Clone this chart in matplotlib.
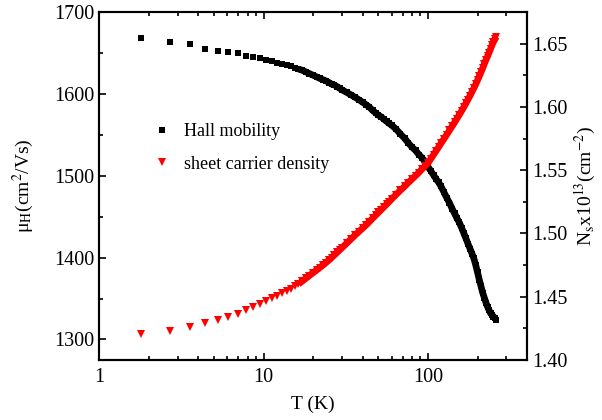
import numpy as np
import matplotlib
matplotlib.use("Agg")
import matplotlib.pyplot as plt
from matplotlib.ticker import LogLocator, MultipleLocator, FormatStrFormatter, NullFormatter

plt.rcParams['font.family'] = ['Liberation Serif', 'DejaVu Serif']
plt.rcParams['mathtext.fontset'] = 'stix'

# temperature (K)
T = [1.8, 2.7, 3.55, 4.4, 5.3, 6.1, 7.0, 7.85, 8.6, 9.5,
     10.4, 11.3, 12.1, 13.0, 13.8, 14.6, 15.5, 16.3, 17.2, 18.1, 19, 20,
     21, 22, 23, 24, 25, 26, 27, 28, 29, 30,
     32, 34, 36, 38, 40, 42, 44, 46, 48, 50, 52, 54, 56, 58, 60,
     64, 68, 72, 76, 80, 84, 88, 92, 96, 100, 104, 108, 112, 116, 120,
     125, 130, 135, 140, 145, 150, 155, 160, 165, 170, 175, 180, 185, 190, 195,
     200, 205, 210, 215, 220, 225, 230, 235, 240, 245, 250, 255, 260]

# Hall mobility (cm^2/Vs)
mu_H = [1668, 1663, 1660.6, 1655, 1652.4, 1651, 1649.6, 1646.3, 1645, 1644.5,
        1641.5, 1640, 1638.5, 1637, 1635.5, 1634, 1632, 1630.5, 1629, 1627, 1625, 1623,
        1621, 1619, 1617.5, 1616, 1614, 1612, 1611, 1609, 1607, 1605,
        1602, 1599, 1596, 1593, 1590, 1587, 1584, 1580, 1577, 1574, 1572, 1569, 1566.5, 1564, 1562,
        1557, 1551, 1546, 1540, 1535, 1531, 1526, 1522, 1517, 1511, 1506, 1501, 1496, 1492, 1487,
        1480, 1473, 1467, 1460, 1454, 1448, 1443, 1436.5, 1430, 1423.5, 1417, 1411, 1405, 1399, 1391,
        1382, 1373, 1365, 1357, 1351, 1345, 1340, 1336, 1332, 1330, 1328, 1326, 1324]

# sheet carrier density (x1e13 cm^-2)
N_s = [1.4205, 1.4231, 1.4258, 1.4290, 1.4316, 1.4342, 1.4363, 1.4394, 1.4416, 1.4442,
       1.4468, 1.4487, 1.4505, 1.4526, 1.4544, 1.4562, 1.4584, 1.4600, 1.4623, 1.4645, 1.4667, 1.4689,
       1.4710, 1.4730, 1.4750, 1.4770, 1.4790, 1.4810, 1.4830, 1.4850, 1.4869, 1.4887,
       1.4922, 1.4955, 1.4986, 1.5015, 1.5041, 1.5066, 1.5093, 1.5119, 1.5143, 1.5166, 1.5189, 1.5210, 1.5231, 1.5251, 1.5271,
       1.5308, 1.5342, 1.5372, 1.5403, 1.5430, 1.5457, 1.5482, 1.5509, 1.5532, 1.5556, 1.5590, 1.5622, 1.5653, 1.5683, 1.5713,
       1.5748, 1.5782, 1.5815, 1.5847, 1.5878, 1.5909, 1.5939, 1.5969, 1.5999, 1.6029, 1.6059, 1.6089, 1.6119, 1.6149, 1.6180,
       1.6211, 1.6243, 1.6275, 1.6308, 1.6341, 1.6372, 1.6400, 1.6430, 1.6460, 1.6490, 1.6515, 1.6535, 1.6555]

fig = plt.figure(figsize=(6.02, 4.2), dpi=100)
ax = fig.add_axes([0.1645, 0.143, 0.711, 0.828])
ax2 = ax.twinx()

# dense part of the sweep: markers overlap into a band
n0 = 17
ax.plot(T[n0:], mu_H[n0:], '-', color='black', lw=4.8, solid_capstyle='butt')
ax2.plot(T[n0:], N_s[n0:], '-', color='red', lw=4.8, solid_capstyle='butt')
h1, = ax.plot(T, mu_H, 's', color='black', markersize=3.8, markeredgewidth=0, label='Hall mobility')
h2, = ax2.plot(T, N_s, 'v', color='red', markersize=5.5, markeredgewidth=0, label='sheet carrier density')

ax.set_xscale('log')
ax.set_xlim(1, 400)
ax.set_ylim(1275, 1700)
ax2.set_ylim(1.40, 1.675)

ax.xaxis.set_major_locator(LogLocator(base=10, numticks=10))
ax.xaxis.set_minor_locator(LogLocator(base=10, subs=np.arange(2, 10), numticks=10))
ax.xaxis.set_minor_formatter(NullFormatter())
ax.xaxis.set_major_formatter(FormatStrFormatter('%g'))
ax.yaxis.set_major_locator(MultipleLocator(100))
ax.yaxis.set_minor_locator(MultipleLocator(50))
ax2.yaxis.set_major_locator(MultipleLocator(0.05))
ax2.yaxis.set_minor_locator(MultipleLocator(0.025))
ax2.yaxis.set_major_formatter(FormatStrFormatter('%.2f'))

ax.tick_params(which='both', direction='in', top=True, right=False, width=1.2, labelsize=14.5)
ax.tick_params(which='major', length=5)
ax.tick_params(which='minor', length=3)
ax.tick_params(axis='x', pad=6)
ax2.tick_params(which='both', direction='in', width=1.2, labelsize=14.5)
ax2.tick_params(which='major', length=5)
ax2.tick_params(which='minor', length=3)

for a in (ax, ax2):
    for s in a.spines.values():
        s.set_linewidth(1.5)

ax.set_xlabel('T (K)', fontsize=14, labelpad=6)
ax.set_ylabel('μ$_{\\rm H}$(cm$^{2}$/Vs)', fontsize=14, labelpad=13)
ax2.set_ylabel('N$_{\\rm s}$x10$^{13}$(cm$^{-2}$)', fontsize=14, labelpad=4)

ax.legend(handles=[h1, h2], loc='upper left', bbox_to_anchor=(0.085, 0.727), frameon=False,
          handlelength=1.2, handletextpad=0.6, labelspacing=0.85, fontsize=13, numpoints=1)

fig.savefig('out.png', dpi=100)
